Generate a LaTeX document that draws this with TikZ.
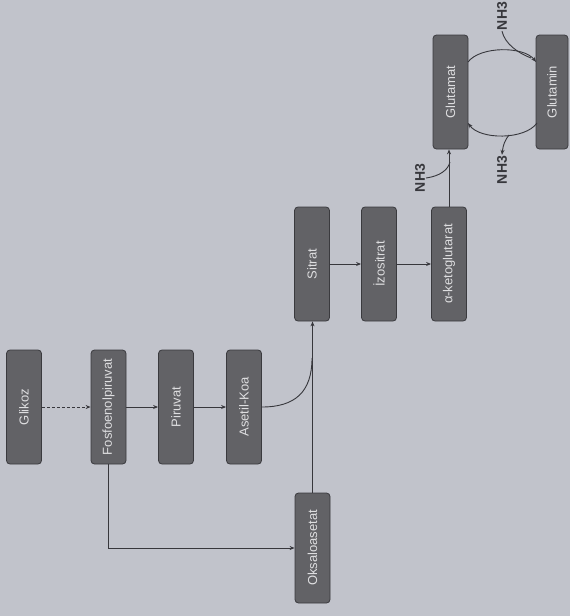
\documentclass[tikz,border=0pt]{standalone}
\usepackage{fontspec}
\setmainfont{Liberation Sans}
\usetikzlibrary{arrows.meta}
\definecolor{bgcol}{RGB}{193,195,203}
\definecolor{boxfill}{RGB}{98,98,102}
\definecolor{boxedge}{RGB}{58,58,62}
\definecolor{boxtext}{RGB}{222,222,224}
\definecolor{linecol}{RGB}{55,55,60}
\newcommand{\rtxt}[1]{\rotatebox{90}{#1}}
\tikzset{
  stepbox/.style={draw=boxedge, line width=0.8pt, fill=boxfill, rounded corners=3.5pt,
    minimum width=35pt, minimum height=114pt, inner sep=0pt, text=boxtext,
    font=\fontsize{13}{15}\selectfont},
  conn/.style={draw=linecol, line width=0.9pt},
  arr/.style={conn, -{Stealth[length=5pt,width=4pt]}},
  nhlabel/.style={inner sep=1pt, text=linecol, font=\fontsize{14}{16}\selectfont\bfseries}
}
\begin{document}
\begin{tikzpicture}[x=1pt,y=-1pt]
\useasboundingbox (0,0) rectangle (570,616);
\fill[bgcol] (0,0) rectangle (570,616);

\node[stepbox] (glikoz)   at (24,407)  {\rtxt{Glikoz}};
\node[stepbox] (fosfo)    at (108.5,407) {\rtxt{Fosfoenolpiruvat}};
\node[stepbox] (piruvat)  at (176,407) {\rtxt{Piruvat}};
\node[stepbox] (asetil)   at (244,407) {\rtxt{Asetil-Koa}};
\node[stepbox, minimum height=110pt] (oksalo) at (312.5,548) {\rtxt{Oksaloasetat}};
\node[stepbox] (sitrat)   at (312,264) {\rtxt{Sitrat}};
\node[stepbox] (izo)      at (379,264) {\rtxt{İzositrat}};
\node[stepbox] (akg)      at (449,264) {\rtxt{α-ketoglutarat}};
\node[stepbox] (glutamat) at (450.5,92) {\rtxt{Glutamat}};
\node[stepbox, minimum width=32pt] (glutamin) at (552,92) {\rtxt{Glutamin}};

\node[nhlabel] (nh3a) at (420,178) {\rtxt{NH3}};
\node[nhlabel] (nh3b) at (502,16)  {\rtxt{NH3}};
\node[nhlabel] (nh3c) at (502,170) {\rtxt{NH3}};

\coordinate (merge) at (312,358);
\coordinate (j1) at (450,162);
\coordinate (ga) at (468,62);
\coordinate (gb) at (536,62);
\coordinate (gc) at (537,123);
\coordinate (gd) at (468,123);
\coordinate (j2) at (531,58);
\coordinate (j3) at (509,135);

\draw[arr, dashed, dash pattern=on 3pt off 2pt] (glikoz.east) -- (fosfo.west);
\draw[arr] (fosfo.east) -- (piruvat.west);
\draw[arr] (piruvat.east) -- (asetil.west);
\draw[arr] (fosfo.south) |- (oksalo.west);
\draw[arr] (oksalo.north) -- (oksalo.north |- sitrat.south);
\draw[conn] (asetil.east) .. controls (295,407) and (312,392) .. (merge);
\draw[arr] (sitrat.east) -- (izo.west);
\draw[arr] (izo.east) -- (akg.west);
\draw[arr] (akg.north) -- (akg.north |- glutamat.south);
\draw[conn] (nh3a.east) .. controls (440,176) and (448,170) .. (j1);

\draw[arr] (ga) .. controls (480,46) and (524,46) .. (gb);
\draw[conn] (nh3b.south) .. controls (505,44) and (518,53) .. (j2);
\draw[arr] (gc) .. controls (525,140) and (480,140) .. (gd);
\draw[arr] (j3) .. controls (505,140) and (503,145) .. (nh3c.north);
\end{tikzpicture}
\end{document}
